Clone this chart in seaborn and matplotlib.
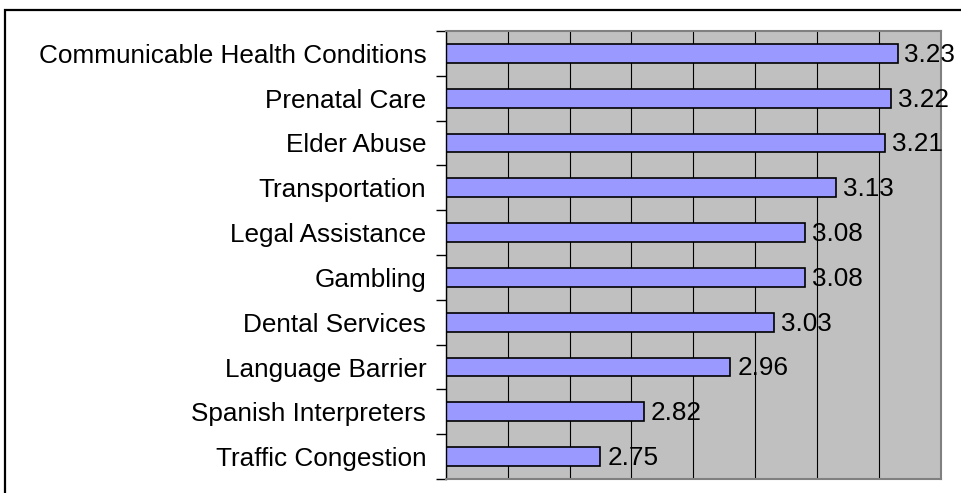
import matplotlib
matplotlib.use("Agg")
import matplotlib.pyplot as plt
import matplotlib.ticker as mtick
from matplotlib.patches import Rectangle
import seaborn as sns
import pandas as pd
import numpy as np

categories = [
    "Communicable Health Conditions",
    "Prenatal Care",
    "Elder Abuse",
    "Transportation",
    "Legal Assistance",
    "Gambling",
    "Dental Services",
    "Language Barrier",
    "Spanish Interpreters",
    "Traffic Congestion",
]
scores = [3.23, 3.22, 3.21, 3.13, 3.08, 3.08, 3.03, 2.96, 2.82, 2.75]
x_min, x_max = 2.5, 3.3

df = pd.DataFrame({"issue": categories, "score": scores})

sns.set_style("white")
plt.rcParams["font.family"] = ["Liberation Sans", "DejaVu Sans"]

fig = plt.figure(figsize=(9.61, 4.93), dpi=100)
ax = fig.add_axes([445.7 / 961, 1 - 479 / 493, (941 - 445.7) / 961, (479 - 31) / 493])
ax.set_facecolor("#C0C0C0")

sns.barplot(data=df, x="score", y="issue", orient="h", color="#9999FF",
            saturation=1, width=0.42, edgecolor="black", linewidth=1.2, ax=ax)

ax.set_xlim(x_min, x_max)
ax.set_ylim(len(categories) - 0.5, -0.5)
ax.xaxis.set_major_locator(mtick.MultipleLocator(0.1))
ax.grid(axis="x", color="black", linewidth=0.8)
ax.set_axisbelow(True)
ax.tick_params(axis="x", bottom=False, labelbottom=False)

# Excel-style ticks at category boundaries
ax.yaxis.set_minor_locator(mtick.FixedLocator(np.arange(-0.5, len(categories), 1.0)))
ax.tick_params(axis="y", which="major", length=0, labelsize=18.8, pad=14, colors="black")
ax.tick_params(axis="y", which="minor", length=7, width=1, color="black", left=True)
ax.set_xlabel("")
ax.set_ylabel("")

for side in ["top", "right", "bottom"]:
    ax.spines[side].set_color("#808080")
    ax.spines[side].set_linewidth(1.5)
ax.spines["left"].set_color("black")
ax.spines["left"].set_linewidth(1)

for i, v in enumerate(scores):
    ax.text(v + 0.011, i + 0.03, f"{v:.2f}", va="center", ha="left", fontsize=18.8,
            color="black", clip_on=False)

# outer chart border (cropped at right and bottom)
fig.patches.append(Rectangle((5 / 961, -0.2), 1.2, 1.2 - 10 / 493,
                             transform=fig.transFigure, fill=False,
                             edgecolor="black", linewidth=1.6))

fig.savefig("out.png", dpi=100)
